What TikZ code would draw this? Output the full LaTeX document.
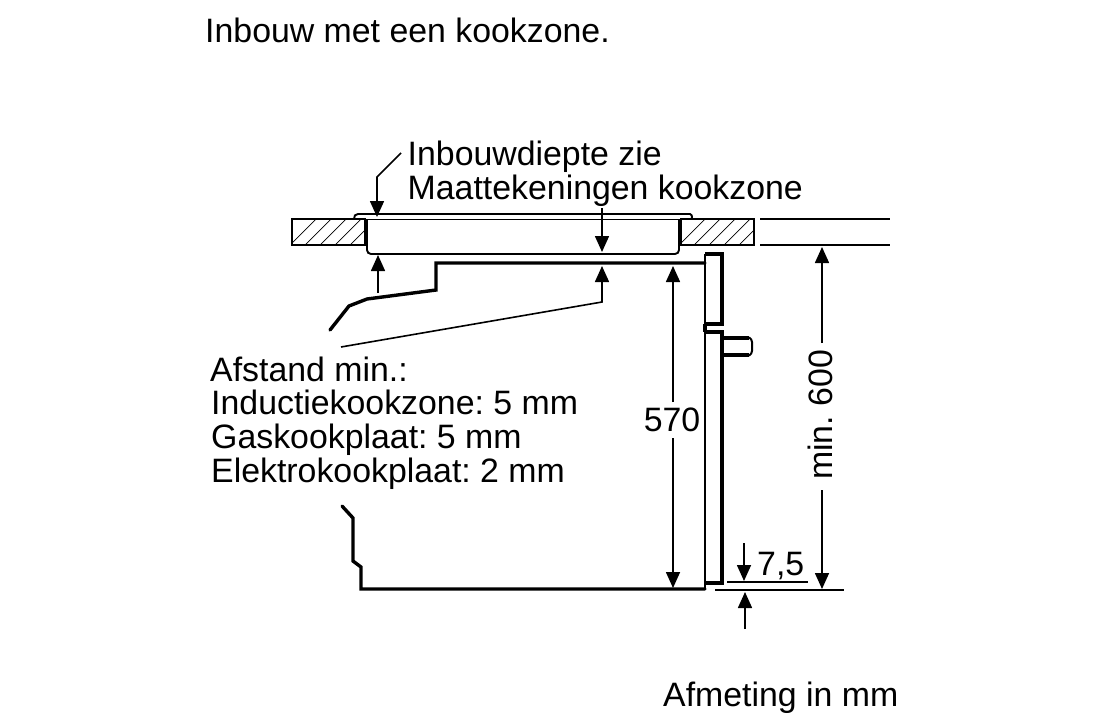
\documentclass[tikz,border=0pt]{standalone}
\usepackage{fontspec}
\setmainfont{Liberation Sans}
\usetikzlibrary{arrows.meta}
\tikzset{
  label/.style={inner sep=0pt,anchor=base west,font=\fontsize{33.85}{34}\selectfont},
  dimlabel/.style={inner sep=0pt,font=\fontsize{33.85}{34}\selectfont},
  thick line/.style={line width=3.4pt,miter limit=4},
  thin line/.style={line width=1.9pt},
  dim/.style={line width=1.6pt,-{Triangle[length=16pt,width=14pt]}},
  hatchline/.style={line width=0.7pt}
}
\frenchspacing
\begin{document}
\begin{tikzpicture}[x=1pt,y=-1pt]
  \useasboundingbox (0,0) rectangle (1100,720);
  % texts
  \node[label] (title) at (205,42) {Inbouw met een kookzone.};
  \node[label] (depthA) at (407.5,165) {Inbouwdiepte zie};
  \node[label] (depthB) at (407.5,199) {Maattekeningen kookzone};
  \node[label] (gapA) at (210,381) {Afstand min.:};
  \node[label] (gapB) at (211,414) {Inductiekookzone: 5 mm};
  \node[label] (gapC) at (211,448) {Gaskookplaat: 5 mm};
  \node[label] (gapD) at (211,482) {Elektrokookplaat: 2 mm};
  \node[label] (unit) at (663,706) {Afmeting in mm};
  \node[dimlabel] (h570) at (672,420) {570};
  \node[dimlabel,rotate=90] (h600) at (820,415) {min. 600};
  \node[label] (h75) at (757,575) {7,5};
  % worktop
  \foreach \bx in {292,681} {
    \begin{scope}
      \clip (\bx,219) rectangle +(73,26);
      \foreach \dx in {0,15,...,105}
        \draw[hatchline] (\bx+\dx-4,247) -- +(32,-32);
    \end{scope}
    \draw[thin line] (\bx,219) rectangle +(73,26);
  }
  \draw[thin line] (760,219) -- (890,219);
  \draw[thin line] (760,245) -- (890,245);
  % cooktop
  \draw[thin line] (354,219) .. controls (354,216) and (355,214) .. (358,214)
    -- (690,214) .. controls (692,214) and (692,216) .. (692,219) -- (681,219);
  \draw[thin line] (354,219.5) -- (680,219.5);
  \draw[thin line,rounded corners=4pt] (367,219.5) -- (367,254) -- (679,254) -- (679,219.5);
  % oven
  \draw[thick line,line cap=round] (330,330) -- (349,306) -- (367,299) -- (436,290)
    -- (436,263) -- (705,263);
  \draw[thick line,line cap=round] (342,506) -- (353,518) -- (353,561) -- (361,567)
    -- (361,589) -- (705,589);
  \draw[thin line] (705,589) -- (705,583);
  \draw[thick line] (705,583) -- (722,583) -- (722,332) -- (705,332);
  \draw[thin line] (705,583) -- (705,332);
  \draw[thick line] (705,332) -- (705,324);
  \draw[thin line] (705,324) -- (705,254);
  \draw[thick line] (705,254) -- (722,254) -- (722,324) -- (705,324);
  % knob
  \draw[thick line] (722,338) -- (749,338);
  \draw[thick line] (722,355) -- (749,355);
  \draw[line width=2pt,rounded corners=3pt] (749,337.5) -- (752,339) -- (752,354) -- (749,355.5);
  % dimensions
  \coordinate (depthEnd) at (401,153);
  \coordinate (depthBend) at (377,177);
  \coordinate (depthTip) at (377,217);
  \draw[dim] (depthEnd) -- (depthBend) -- (depthTip);
  \draw[dim] (378,293) -- (378,255);
  \draw[dim] (602,208) -- (602,252);
  \coordinate (leadStart) at (341,347);
  \coordinate (leadBend) at (602,302);
  \coordinate (leadTip) at (602,266);
  \draw[dim] (leadStart) -- (leadBend) -- (leadTip);
  \draw[dim] (673,402) -- (673,266);
  \draw[dim] (673,438) -- (673,588);
  \draw[dim] (822,343) -- (822,247);
  \draw[dim] (822,490) -- (822,589);
  \draw[dim] (744,543) -- (744,581);
  \draw[dim] (745,629) -- (745,592);
  \draw[thin line] (727,582) -- (808,582);
  \draw[thin line] (715,590) -- (844,590);
\end{tikzpicture}
\end{document}
